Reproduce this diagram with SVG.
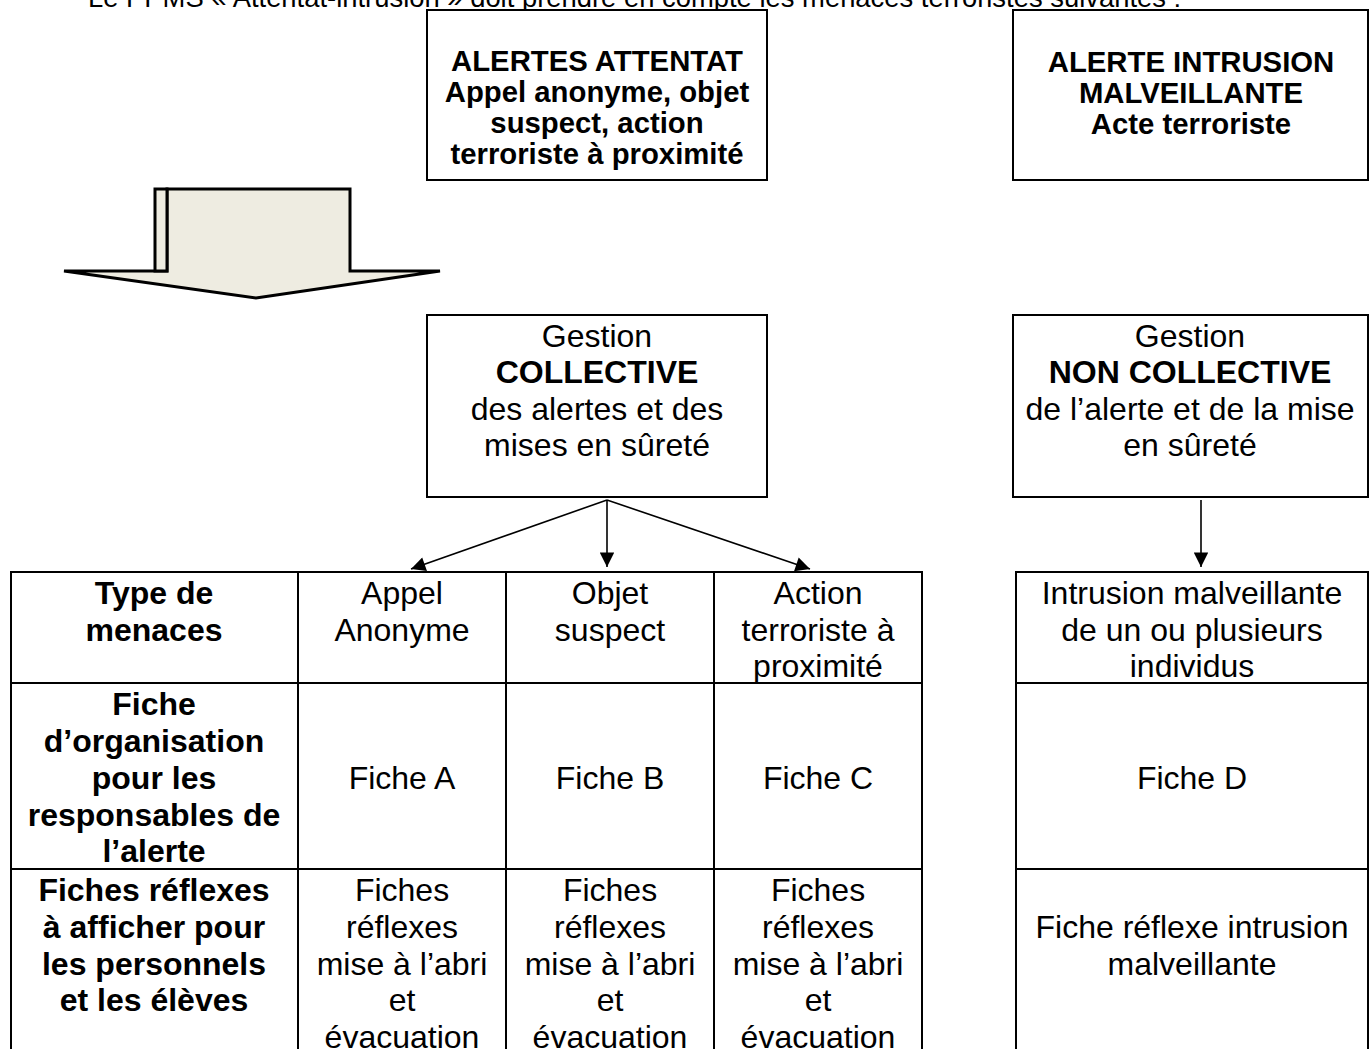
<svg xmlns="http://www.w3.org/2000/svg" width="1369" height="1049" viewBox="0 0 1369 1049">
<defs>
<style>
text{font-family:"Liberation Sans",Arial,sans-serif;fill:#000}
.b{font-weight:bold;font-size:29.3px;text-anchor:middle}
.r{font-size:32px;text-anchor:middle}
.tb{font-weight:bold;font-size:32px;text-anchor:middle}
.box{fill:#fff;stroke:#000;stroke-width:2}
.ln{stroke:#000;stroke-width:2;fill:none}
.con{stroke:#000;stroke-width:1.6;fill:none;marker-end:url(#ah)}
</style>
<marker id="ah" viewBox="0 0 10 10" refX="10" refY="5" markerWidth="10" markerHeight="9" markerUnits="strokeWidth" orient="auto">
<path d="M0,0 L10,5 L0,10 z" fill="#000"/>
</marker>
</defs>
<rect width="1369" height="1049" fill="#fff"/>
<text x="88" y="7" style="font-size:27.4px">Le PPMS « Attentat-intrusion » doit prendre en compte les menaces terroristes suivantes :</text>

<g id="alertes-attentat">
<rect class="box" x="427" y="10" width="340" height="170"/>
<text class="b" x="597" y="71">ALERTES ATTENTAT</text>
<text class="b" x="597" y="102">Appel anonyme, objet</text>
<text class="b" x="597" y="133">suspect, action</text>
<text class="b" x="597" y="164">terroriste à proximité</text>
</g>

<g id="alerte-intrusion">
<rect class="box" x="1013" y="10" width="355" height="170"/>
<text class="b" x="1191" y="72">ALERTE INTRUSION</text>
<text class="b" x="1191" y="103">MALVEILLANTE</text>
<text class="b" x="1191" y="134">Acte terroriste</text>
</g>

<g id="big-arrow">
<polygon points="167,189 350,189 350,271 440,271 256,298 64,271 167,271" fill="#EEECE1" stroke="#000" stroke-width="3" stroke-linejoin="miter"/>
<rect x="155" y="189" width="12" height="82" fill="#EEECE1" stroke="#000" stroke-width="3"/>
</g>

<g id="gestion-collective">
<rect class="box" x="427" y="315" width="340" height="182"/>
<text class="r" x="597" y="347">Gestion</text>
<text class="tb" x="597" y="383">COLLECTIVE</text>
<text class="r" x="597" y="420">des alertes et des</text>
<text class="r" x="597" y="456">mises en sûreté</text>
</g>

<g id="gestion-non-collective">
<rect class="box" x="1013" y="315" width="355" height="182"/>
<text class="r" x="1190" y="347">Gestion</text>
<text class="tb" x="1190" y="383">NON COLLECTIVE</text>
<text class="r" x="1190" y="420">de l’alerte et de la mise</text>
<text class="r" x="1190" y="456">en sûreté</text>
</g>

<g id="connectors">
<line class="con" x1="607" y1="500" x2="411" y2="569"/>
<line class="con" x1="607" y1="500" x2="607" y2="567"/>
<line class="con" x1="607" y1="500" x2="810" y2="569"/>
<line class="con" x1="1201" y1="500" x2="1201" y2="567"/>
</g>

<g id="table-collective">
<path class="ln" d="M11,1049 V572 H922 V1049 M298,572 V1049 M506,572 V1049 M714,572 V1049 M11,683 H922 M11,869 H922"/>
<text class="tb" x="154" y="604">Type de</text>
<text class="tb" x="154" y="641">menaces</text>
<text class="r" x="402" y="604">Appel</text>
<text class="r" x="402" y="641">Anonyme</text>
<text class="r" x="610" y="604">Objet</text>
<text class="r" x="610" y="641">suspect</text>
<text class="r" x="818" y="604">Action</text>
<text class="r" x="818" y="641">terroriste à</text>
<text class="r" x="818" y="677">proximité</text>

<text class="tb" x="154" y="715">Fiche</text>
<text class="tb" x="154" y="752">d’organisation</text>
<text class="tb" x="154" y="789">pour les</text>
<text class="tb" x="154" y="826">responsables de</text>
<text class="tb" x="154" y="862">l’alerte</text>
<text class="r" x="402" y="789">Fiche A</text>
<text class="r" x="610" y="789">Fiche B</text>
<text class="r" x="818" y="789">Fiche C</text>

<text class="tb" x="154" y="901">Fiches réflexes</text>
<text class="tb" x="154" y="938">à afficher pour</text>
<text class="tb" x="154" y="975">les personnels</text>
<text class="tb" x="154" y="1011">et les élèves</text>
<text class="r" x="402" y="901">Fiches</text>
<text class="r" x="402" y="938">réflexes</text>
<text class="r" x="402" y="975">mise à l’abri</text>
<text class="r" x="402" y="1011">et</text>
<text class="r" x="402" y="1048">évacuation</text>
<text class="r" x="610" y="901">Fiches</text>
<text class="r" x="610" y="938">réflexes</text>
<text class="r" x="610" y="975">mise à l’abri</text>
<text class="r" x="610" y="1011">et</text>
<text class="r" x="610" y="1048">évacuation</text>
<text class="r" x="818" y="901">Fiches</text>
<text class="r" x="818" y="938">réflexes</text>
<text class="r" x="818" y="975">mise à l’abri</text>
<text class="r" x="818" y="1011">et</text>
<text class="r" x="818" y="1048">évacuation</text>
</g>

<g id="table-non-collective">
<path class="ln" d="M1016,1049 V572 H1368 V1049 M1016,683 H1368 M1016,869 H1368"/>
<text class="r" x="1192" y="604">Intrusion malveillante</text>
<text class="r" x="1192" y="641">de un ou plusieurs</text>
<text class="r" x="1192" y="677">individus</text>
<text class="r" x="1192" y="789">Fiche D</text>
<text class="r" x="1192" y="938">Fiche réflexe intrusion</text>
<text class="r" x="1192" y="975">malveillante</text>
</g>
</svg>
